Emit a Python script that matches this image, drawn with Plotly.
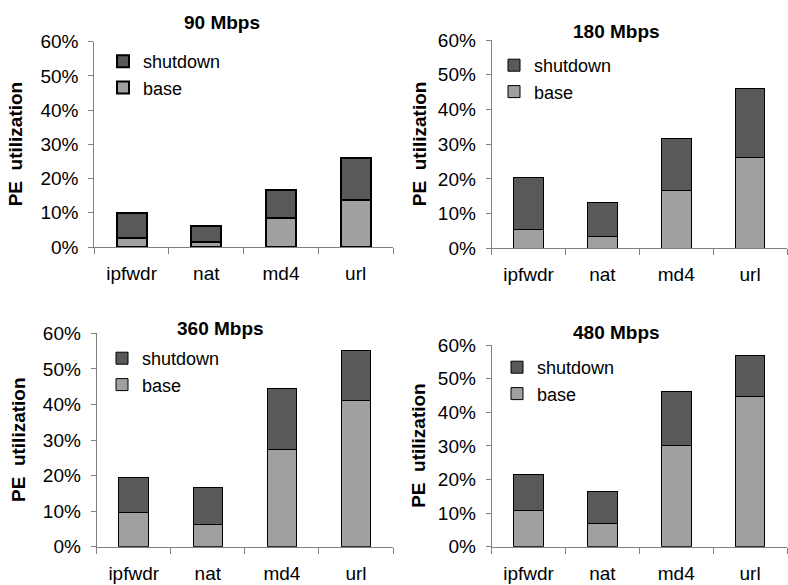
import plotly.graph_objects as go

categories = ["ipfwdr", "nat", "md4", "url"]
panel_titles = ["90 Mbps", "180 Mbps", "360 Mbps", "480 Mbps"]
# totals; base + shutdown = total
base_90 = [0.026, 0.015, 0.084, 0.137]
total_90 = [0.100, 0.060, 0.167, 0.261]
base_180 = [0.055, 0.034, 0.166, 0.262]
total_180 = [0.204, 0.131, 0.315, 0.460]
base_360 = [0.0975, 0.061, 0.272, 0.411]
total_360 = [0.195, 0.166, 0.445, 0.551]
base_480 = [0.107, 0.070, 0.302, 0.446]
total_480 = [0.214, 0.163, 0.462, 0.568]
y_ticks = [0, 0.1, 0.2, 0.3, 0.4, 0.5, 0.6]

bases = [base_90, base_180, base_360, base_480]
totals = [total_90, total_180, total_360, total_480]

W, H = 788, 585
C_SHUT = "#595959"
C_BASE = "#a0a0a0"
FONT = "Liberation Sans, Arial, Helvetica, sans-serif"

# pixel boxes: (x0, x1, y_top(60%), y_bottom(0%))
boxes = [
    (94.3, 393.0, 41.7, 247.0),
    (491.7, 787.0, 40.0, 248.3),
    (96.7, 393.0, 333.3, 546.7),
    (491.7, 787.0, 345.0, 546.7),
]
title_pos = [(222, 23), (616, 31), (221, 328), (616, 332)]
ytitle_x = [15, 419, 18, 419]
legend_pos = [(103, 43), (494, 47), (102, 340), (497, 349)]
outline_w = [2, 1, 1, 1]

fig = go.Figure()
layout = dict(
    width=W, height=H, margin=dict(l=0, r=0, t=0, b=0),
    paper_bgcolor="white", plot_bgcolor="white",
    font=dict(family=FONT, size=19, color="black"),
    barmode="stack", bargap=0.6, showlegend=True,
    annotations=[],
)

for i in range(4):
    sfx = "" if i == 0 else str(i + 1)
    xa, ya = "x" + sfx, "y" + sfx
    lg = "legend" + sfx
    shut = [t - b for t, b in zip(totals[i], bases[i])]
    fig.add_trace(go.Bar(x=categories, y=bases[i], name="base", xaxis=xa, yaxis=ya,
                         marker=dict(color=C_BASE, line=dict(color="black", width=outline_w[i])),
                         legend=lg))
    fig.add_trace(go.Bar(x=categories, y=shut, name="shutdown", xaxis=xa, yaxis=ya,
                         marker=dict(color=C_SHUT, line=dict(color="black", width=outline_w[i])),
                         legend=lg))
    x0, x1, yt, yb = boxes[i]
    layout["xaxis" + sfx] = dict(
        domain=[x0 / W, x1 / W], anchor=ya, type="category", automargin=False,
        range=[-0.5, 3.5], showline=True, linecolor="#808080", linewidth=1,
        ticks="outside", tickson="boundaries", ticklen=6, tickcolor="#808080",
        showgrid=False, zeroline=False, ticklabelstandoff=9,
        tickfont=dict(size=19, family=FONT),
    )
    layout["yaxis" + sfx] = dict(
        domain=[1 - yb / H, 1 - yt / H], anchor=xa, range=[0, 0.6], automargin=False,
        tickvals=y_ticks, tickformat=".0%", showline=True, linecolor="#808080",
        linewidth=1, ticks="outside", ticklen=5, tickcolor="#808080",
        showgrid=False, zeroline=False, ticklabelstandoff=6,
        tickfont=dict(size=19, family=FONT),
    )
    lx, ly = legend_pos[i]
    layout[lg] = dict(
        x=lx / W, y=1 - ly / H, xanchor="left", yanchor="top",
        xref="paper", yref="paper", traceorder="reversed",
        bgcolor="rgba(0,0,0,0)", font=dict(size=18, family=FONT),
        itemwidth=30, tracegroupgap=0,
    )
    tx, ty = title_pos[i]
    layout["annotations"].append(dict(
        text="<b>" + panel_titles[i] + "</b>", x=tx / W, y=1 - ty / H,
        xref="paper", yref="paper", showarrow=False, xanchor="center", yanchor="middle",
        font=dict(size=19, family=FONT)))
    layout["annotations"].append(dict(
        text="<b>PE  utilization</b>", x=ytitle_x[i] / W, y=1 - ((yt + yb) / 2) / H,
        xref="paper", yref="paper", showarrow=False, textangle=-90,
        xanchor="center", yanchor="middle", font=dict(size=19, family=FONT)))

fig.update_layout(**layout)
fig.write_html("out.html")
